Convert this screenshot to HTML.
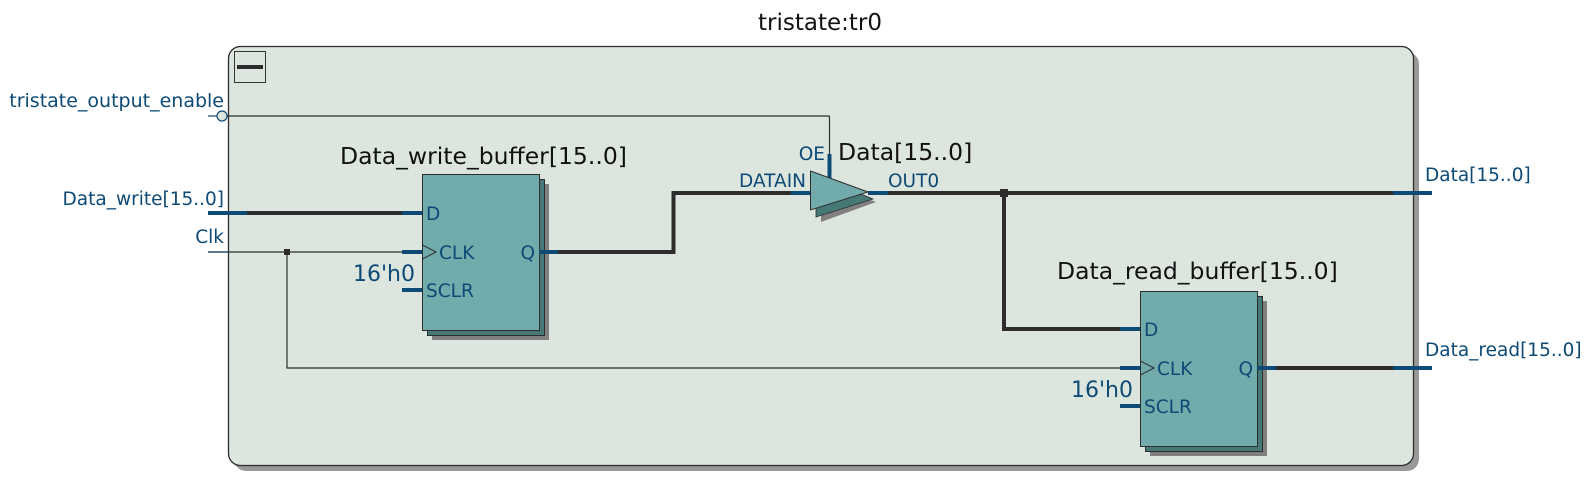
<!DOCTYPE html>
<html><head><meta charset="utf-8"><style>
html,body{margin:0;padding:0;background:#fff;}
svg{display:block;}
text{font-family:"DejaVu Sans","Liberation Sans",sans-serif;}
.p{fill:#0d4a76;font-size:18.5px;}
.t{fill:#111;font-size:23.5px;}
.io{fill:#0d4a76;font-size:18.5px;}
</style></head><body>
<svg width="1593" height="493" viewBox="0 0 1593 493" xmlns="http://www.w3.org/2000/svg">
<rect x="234" y="52" width="1185" height="419" rx="12" fill="#999"/>
<rect x="228.5" y="46.5" width="1185" height="419" rx="12" fill="#dde6de" stroke="#2d2d2d" stroke-width="1.3"/>
<text x="820" y="30" text-anchor="middle" class="t" style="font-size:23px">tristate:tr0</text>
<rect x="234.5" y="51.5" width="31" height="31" fill="none" stroke="#333" stroke-width="1"/>
<rect x="237" y="65" width="26" height="4" fill="#2d2d2d"/>

<text x="224" y="107" text-anchor="end" class="io" style="font-size:19px">tristate_output_enable</text>
<text x="224" y="205" text-anchor="end" class="io">Data_write[15..0]</text>
<text x="224" y="243" text-anchor="end" class="io">Clk</text>

<line x1="208" y1="116" x2="217" y2="116" stroke="#0d4a76" stroke-width="1.2"/>
<circle cx="222" cy="116" r="5" fill="#dde6de" stroke="#0d4a76" stroke-width="1.2"/>
<line x1="227" y1="116" x2="829.5" y2="116" stroke="#2d2d2d" stroke-width="1.2"/>
<line x1="829.5" y1="116" x2="829.5" y2="154" stroke="#2d2d2d" stroke-width="1.2"/>
<line x1="829.5" y1="154" x2="829.5" y2="178" stroke="#0d4a76" stroke-width="4"/>

<line x1="208" y1="213" x2="247" y2="213" stroke="#0d4a76" stroke-width="4"/>
<line x1="247" y1="213" x2="402" y2="213" stroke="#2d2d2d" stroke-width="4"/>
<line x1="402" y1="213" x2="422" y2="213" stroke="#0d4a76" stroke-width="4"/>

<line x1="208" y1="252" x2="402" y2="252" stroke="#2d2d2d" stroke-width="1.2"/>
<line x1="208" y1="252" x2="228" y2="252" stroke="#0d4a76" stroke-width="1.2"/>
<line x1="402" y1="252" x2="422" y2="252" stroke="#0d4a76" stroke-width="4"/>
<rect x="284" y="249" width="6" height="6" fill="#2d2d2d"/>
<polyline points="287,252 287,368 1120,368" fill="none" stroke="#2d2d2d" stroke-width="1.2"/>
<line x1="1120" y1="368" x2="1140" y2="368" stroke="#0d4a76" stroke-width="4"/>

<line x1="402" y1="290" x2="422" y2="290" stroke="#0d4a76" stroke-width="4"/>
<line x1="1120" y1="406" x2="1140" y2="406" stroke="#0d4a76" stroke-width="4"/>

<text x="340" y="164" class="t">Data_write_buffer[15..0]</text>
<rect x="432" y="184" width="117" height="156" fill="#808080"/>
<rect x="427.5" y="179.5" width="117" height="156" fill="#467878" stroke="#2d2d2d" stroke-width="1"/>
<rect x="422.5" y="174.5" width="117" height="156" fill="#72abab" stroke="#2d2d2d" stroke-width="1"/>
<polyline points="422.5,245 436,252 422.5,259" fill="none" stroke="#2d2d2d" stroke-width="1"/>
<text x="426" y="220" class="p">D</text>
<text x="439" y="259" class="p">CLK</text>
<text x="426" y="297" class="p">SCLR</text>
<text x="535" y="259" text-anchor="end" class="p">Q</text>
<text x="415" y="281" text-anchor="end" style="fill:#0d4a76;font-size:22px">16'h0</text>

<line x1="539" y1="252" x2="558" y2="252" stroke="#0d4a76" stroke-width="4"/>
<polyline points="558,252 673.5,252 673.5,193 791,193" fill="none" stroke="#2d2d2d" stroke-width="4"/>
<line x1="791" y1="193" x2="811" y2="193" stroke="#0d4a76" stroke-width="4"/>

<polygon points="821,181 876,202 821,222" fill="#808080"/>
<polygon points="816,176 873,199 816,217" fill="#467878" stroke="#2d2d2d" stroke-width="0.8"/>
<polygon points="810.5,171 868,192 810.5,210" fill="#72abab" stroke="#2d2d2d" stroke-width="1"/>
<text x="806" y="187" text-anchor="end" class="p">DATAIN</text>
<text x="825" y="160" text-anchor="end" class="p">OE</text>
<text x="888" y="187" class="p">OUT0</text>
<text x="838" y="160" class="t">Data[15..0]</text>

<line x1="868" y1="193" x2="888" y2="193" stroke="#0d4a76" stroke-width="4"/>
<line x1="888" y1="193" x2="1393" y2="193" stroke="#2d2d2d" stroke-width="4"/>
<line x1="1393" y1="193" x2="1432" y2="193" stroke="#0d4a76" stroke-width="4"/>
<rect x="1000" y="189" width="8" height="8" fill="#2d2d2d"/>
<polyline points="1004,193 1004,329 1120,329" fill="none" stroke="#2d2d2d" stroke-width="4"/>
<line x1="1120" y1="329" x2="1140" y2="329" stroke="#0d4a76" stroke-width="4"/>
<text x="1425" y="181" class="io">Data[15..0]</text>

<text x="1057" y="279" class="t">Data_read_buffer[15..0]</text>
<rect x="1150" y="301" width="117" height="155" fill="#808080"/>
<rect x="1145.5" y="296.5" width="117" height="155" fill="#467878" stroke="#2d2d2d" stroke-width="1"/>
<rect x="1140.5" y="291.5" width="117" height="155" fill="#72abab" stroke="#2d2d2d" stroke-width="1"/>
<polyline points="1140.5,361 1154,368 1140.5,375" fill="none" stroke="#2d2d2d" stroke-width="1"/>
<text x="1144" y="336" class="p">D</text>
<text x="1157" y="375" class="p">CLK</text>
<text x="1144" y="413" class="p">SCLR</text>
<text x="1253" y="375" text-anchor="end" class="p">Q</text>
<text x="1133" y="397" text-anchor="end" style="fill:#0d4a76;font-size:22px">16'h0</text>

<line x1="1257" y1="368" x2="1276" y2="368" stroke="#0d4a76" stroke-width="4"/>
<line x1="1276" y1="368" x2="1393" y2="368" stroke="#2d2d2d" stroke-width="4"/>
<line x1="1393" y1="368" x2="1432" y2="368" stroke="#0d4a76" stroke-width="4"/>
<text x="1425" y="356" class="io">Data_read[15..0]</text>
</svg>
</body></html>
